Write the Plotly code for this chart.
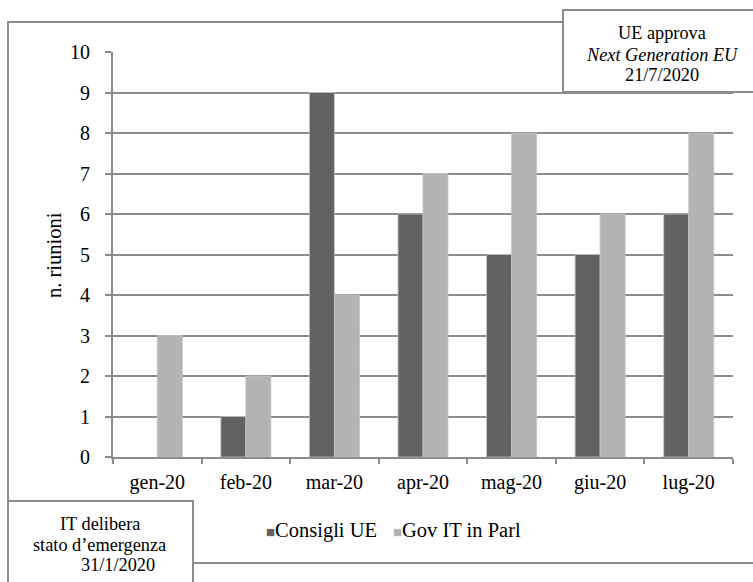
import plotly.graph_objects as go

# Monthly meeting counts, Jan–Jul 2020
months = ["gen-20", "feb-20", "mar-20", "apr-20", "mag-20", "giu-20", "lug-20"]
consigli_ue = [None, 1, 9, 6, 5, 5, 6]
gov_it_parl = [3, 2, 4, 7, 8, 6, 8]
y_ticks = list(range(0, 11))

DARK = "#646260"
LIGHT = "#b3b3b3"
LINE = "#8c8c8c"
FONT = "Liberation Serif"

W, H = 753, 582
L, R, T, B = 113, 20, 52, 125
PW, PH = W - L - R, H - T - B


def px(x):
    return (x - L) / PW


def py(y):
    return (H - B - y) / PH


fig = go.Figure()
fig.add_trace(go.Bar(x=months, y=consigli_ue, name="Consigli UE",
                     marker=dict(color=DARK, line=dict(color="#c4c4c4", width=0.8))))
fig.add_trace(go.Bar(x=months, y=gov_it_parl, name="Gov IT in Parl",
                     marker=dict(color=LIGHT, line=dict(color="#c4c4c4", width=0.8))))

shapes = [
    # outer chart frame
    dict(type="rect", xref="paper", yref="paper",
         x0=px(8), x1=px(770), y0=py(563), y1=py(22),
         line=dict(color=LINE, width=2), fillcolor="rgba(0,0,0,0)"),
    # top-right note box
    dict(type="rect", xref="paper", yref="paper",
         x0=px(563), x1=px(770), y0=py(92), y1=py(10),
         line=dict(color=LINE, width=2), fillcolor="white"),
    # bottom-left note box
    dict(type="rect", xref="paper", yref="paper",
         x0=px(8), x1=px(193), y0=py(600), y1=py(501),
         line=dict(color=LINE, width=2), fillcolor="white"),
]

box_font = dict(family=FONT, size=18.3, color="black")
leg_font = dict(family=FONT, size=20.5, color="black")
annotations = [
    dict(text="n. riunioni", textangle=-90, x=px(54), y=py(255),
         font=dict(family=FONT, size=20.5, color="black")),
    dict(text="UE approva", x=px(662), y=py(33), font=box_font),
    dict(text="<i>Next Generation EU</i>", x=px(662), y=py(55), font=box_font),
    dict(text="21/7/2020", x=px(662), y=py(75), font=box_font),
    dict(text="IT delibera", x=px(100), y=py(524), font=box_font),
    dict(text="stato d’emergenza", x=px(99), y=py(545), font=box_font),
    dict(text="31/1/2020", x=px(118), y=py(565), font=box_font),
    # legend entries
    dict(text=f"<span style='color:{DARK};font-size:15px'>■</span>Consigli UE",
         x=px(264), y=py(530), xanchor="left", font=leg_font),
    dict(text=f"<span style='color:{LIGHT};font-size:15px'>■</span>Gov IT in Parl",
         x=px(391), y=py(530), xanchor="left", font=leg_font),
]
for a in annotations:
    a.setdefault("xanchor", "center")
    a.update(xref="paper", yref="paper", yanchor="middle", showarrow=False)

fig.update_layout(
    width=W, height=H,
    margin=dict(l=L, r=R, t=T, b=B, pad=0),
    paper_bgcolor="white", plot_bgcolor="white",
    barmode="group", bargap=0.435, bargroupgap=0,
    showlegend=False,
    font=dict(family=FONT, size=20, color="black"),
    shapes=shapes, annotations=annotations,
)
fig.update_xaxes(
    showline=True, linecolor=LINE, linewidth=2,
    ticks="outside", tickson="boundaries", ticklen=5, tickcolor=LINE, tickwidth=2,
    showgrid=False, ticklabelstandoff=6,
    tickfont=dict(family=FONT, size=20, color="black"),
)
fig.update_yaxes(
    range=[0, 10], tickvals=y_ticks,
    showline=True, linecolor=LINE, linewidth=2,
    ticks="outside", ticklen=6, tickcolor=LINE, tickwidth=2,
    showgrid=True, gridcolor=LINE, gridwidth=1.5,
    zeroline=False, ticklabelstandoff=11,
    tickfont=dict(family=FONT, size=20, color="black"),
)

fig.write_html("out.html")
